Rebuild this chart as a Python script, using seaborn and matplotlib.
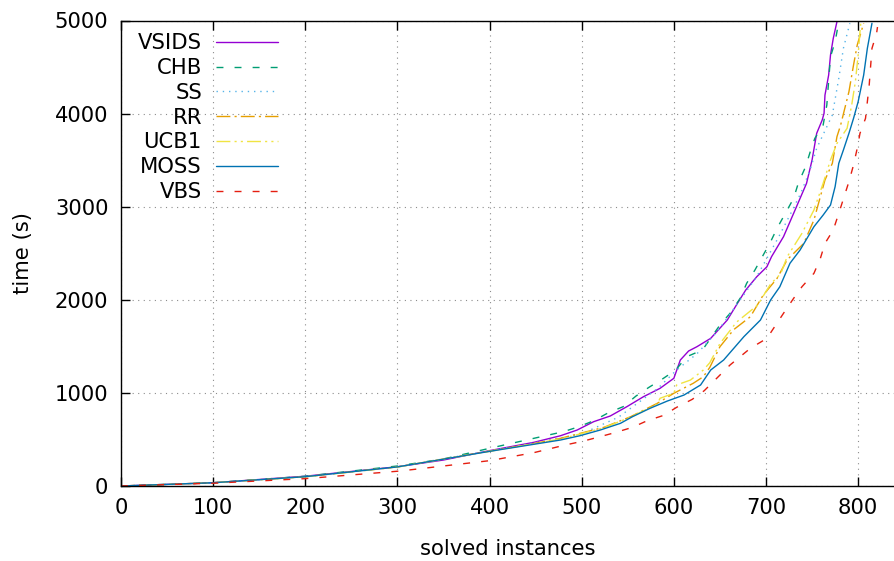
import pandas as pd
import seaborn as sns
import matplotlib.pyplot as plt

# solved instances (x) vs time in seconds (y)
vsids_x = [0, 100, 200, 300, 350, 400, 448, 477, 495, 513, 531, 549, 567, 585, 600, 607, 616, 625, 640, 658, 669, 678, 690, 701, 706, 719, 730, 744, 750, 755, 761, 763, 764, 768, 770, 773, 777]
vsids_y = [0, 35, 105, 207, 279, 380, 469, 540, 601, 691, 752, 852, 959, 1049, 1157, 1353, 1450, 1496, 1586, 1783, 1962, 2105, 2248, 2355, 2463, 2678, 2929, 3251, 3502, 3788, 3931, 4003, 4199, 4414, 4629, 4808, 4987]

chb_x = [0, 100, 200, 300, 350, 400, 448, 480, 497, 513, 529, 545, 559, 573, 588, 602, 614, 631, 650, 661, 672, 679, 688, 696, 705, 712, 721, 730, 735, 743, 748, 753, 762, 766, 770, 775, 779]
chb_y = [0, 35, 105, 215, 290, 405, 512, 583, 637, 701, 787, 852, 967, 1060, 1152, 1246, 1389, 1461, 1729, 1855, 2016, 2177, 2320, 2463, 2624, 2768, 2929, 3090, 3251, 3430, 3590, 3734, 3877, 4092, 4611, 4772, 4987]

ss_x = [0, 100, 200, 300, 400, 448, 500, 540, 583, 603, 625, 647, 672, 690, 704, 714, 728, 738, 748, 755, 772, 779, 784, 791]
ss_y = [0, 35, 100, 205, 378, 462, 560, 740, 1052, 1246, 1420, 1657, 2000, 2250, 2500, 2680, 2950, 3150, 3400, 3627, 3985, 4379, 4701, 4970]

rr_x = [0, 100, 200, 300, 400, 448, 477, 524, 553, 582, 600, 621, 632, 639, 650, 665, 683, 697, 712, 723, 741, 752, 764, 772, 777, 781, 790, 795, 799, 806]
rr_y = [0, 35, 100, 205, 375, 455, 512, 630, 744, 888, 996, 1103, 1174, 1274, 1496, 1680, 1818, 2051, 2230, 2430, 2606, 2857, 3287, 3466, 3752, 3877, 4235, 4522, 4736, 4970]

ucb1_x = [0, 100, 200, 300, 400, 448, 477, 524, 553, 582, 585, 600, 603, 618, 632, 639, 650, 668, 691, 705, 716, 723, 739, 752, 762, 770, 777, 788, 793, 797, 800, 802, 803]
ucb1_y = [0, 35, 98, 203, 372, 455, 505, 625, 740, 880, 942, 996, 1085, 1138, 1246, 1324, 1530, 1760, 1944, 2170, 2280, 2463, 2714, 2964, 3251, 3502, 3680, 3842, 4092, 4343, 4629, 4880, 4987]

moss_x = [0, 100, 200, 300, 400, 448, 477, 498, 520, 542, 555, 574, 593, 611, 629, 640, 654, 676, 694, 705, 715, 726, 737, 752, 762, 770, 775, 779, 784, 790, 795, 800, 806, 810, 815]
moss_y = [0, 35, 100, 205, 372, 448, 494, 540, 601, 673, 744, 834, 913, 977, 1085, 1246, 1353, 1604, 1783, 1998, 2140, 2392, 2535, 2785, 2910, 3018, 3215, 3466, 3609, 3788, 3949, 4128, 4414, 4701, 4970]

vbs_x = [0, 100, 200, 303, 350, 400, 448, 482, 502, 520, 536, 555, 571, 589, 603, 620, 633, 661, 683, 701, 719, 730, 739, 752, 759, 764, 773, 779, 790, 795, 799, 802, 808, 812, 815, 820, 821]
vbs_y = [0, 30, 79, 161, 215, 272, 358, 440, 483, 530, 573, 630, 701, 759, 845, 931, 1024, 1300, 1479, 1586, 1855, 2016, 2140, 2284, 2445, 2606, 2750, 2929, 3269, 3448, 3627, 3788, 3949, 4307, 4701, 4862, 4930]

solvers = ["VSIDS", "CHB", "SS", "RR", "UCB1", "MOSS", "VBS"]
series = {
    "VSIDS": (vsids_x, vsids_y),
    "CHB": (chb_x, chb_y),
    "SS": (ss_x, ss_y),
    "RR": (rr_x, rr_y),
    "UCB1": (ucb1_x, ucb1_y),
    "MOSS": (moss_x, moss_y),
    "VBS": (vbs_x, vbs_y),
}

rows = []
for name in solvers:
    xs, ys = series[name]
    for x, y in zip(xs, ys):
        rows.append({"solver": name, "solved": x, "time": y})
df = pd.DataFrame(rows)

# gnuplot default palette / dash types
colors = {
    "VSIDS": "#9400D3",
    "CHB": "#009E73",
    "SS": "#56B4E9",
    "RR": "#E69F00",
    "UCB1": "#F0E442",
    "MOSS": "#0072B2",
    "VBS": "#E51E10",
}
dashes = {
    "VSIDS": "",
    "CHB": (5, 8),
    "SS": (1, 3.5),
    "RR": (10, 3, 1.5, 3),
    "UCB1": (10, 3, 1.5, 3, 1.5, 3),
    "MOSS": "",
    "VBS": (5, 8),
}

sns.set_theme(style="white")
plt.rcParams["font.family"] = ["DejaVu Sans"]
plt.rcParams["text.color"] = "black"
plt.rcParams["axes.labelcolor"] = "black"
fs = 15.2

fig = plt.figure(figsize=(8.95, 5.61), dpi=100)
ax = fig.add_axes([121 / 895, 1 - 486 / 561, 1 - 121 / 895, (486 - 20.5) / 561])

sns.lineplot(data=df, x="solved", y="time", hue="solver", style="solver",
             hue_order=solvers, style_order=solvers, palette=colors,
             dashes=dashes, estimator=None, sort=False, linewidth=1.0, ax=ax)

ax.set_xlim(0, 840)
ax.set_ylim(0, 5000)
ax.set_xticks(range(0, 900, 100))
ax.set_yticks(range(0, 5001, 1000))
ax.grid(True, color="0.55", linestyle=(0, (1, 4)), linewidth=0.8)
ax.tick_params(direction="in", length=6.5, width=1, labelsize=fs,
               top=True, bottom=True, left=True, right=False, pad=9, colors="black")
for side in ["left", "top", "bottom"]:
    ax.spines[side].set_color("black")
    ax.spines[side].set_linewidth(1)
ax.spines["right"].set_visible(False)

ax.set_xlabel("solved instances", fontsize=fs, labelpad=15)
ax.set_ylabel("time (s)", fontsize=fs, labelpad=16)

# gnuplot-style key: right-aligned labels, sample to the right
ax.legend(loc="upper right", bbox_to_anchor=((278 - 121) / 774, 0.973),
          frameon=False, markerfirst=False, fontsize=fs, handlelength=2.95,
          handletextpad=0.65, labelspacing=0.23, borderpad=0, borderaxespad=0)

fig.savefig("out.png", dpi=100)
